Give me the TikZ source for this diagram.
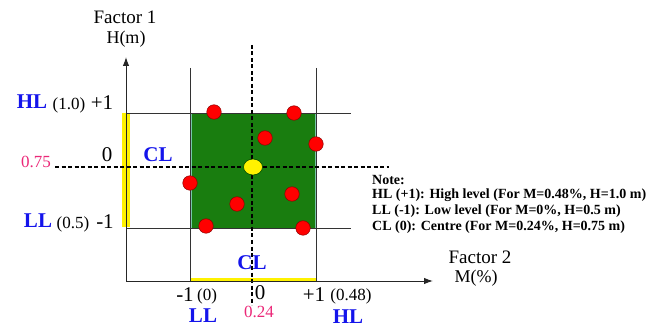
\documentclass[tikz,border=0pt]{standalone}
\usepackage{fontspec}
\setmainfont{Liberation Serif}
\usetikzlibrary{arrows.meta,shapes.geometric}
\definecolor{lblblue}{RGB}{20,20,235}
\definecolor{pinkv}{RGB}{235,40,120}
\definecolor{dgreen}{RGB}{25,125,15}
\definecolor{gedge}{RGB}{120,200,170}
\begin{document}
\begin{tikzpicture}[x=1pt,y=-1pt,
  thinline/.style={draw=black!80, line width=0.9pt},
  dashline/.style={draw=black, line width=1.6pt, dash pattern=on 4pt off 2.5pt},
  axisline/.style={draw=black!85, line width=1pt},
  lvl/.style={text=lblblue, font=\fontsize{21}{21}\selectfont\bfseries, inner sep=0pt, text height=0.68em, text depth=0pt},
  num/.style={font=\fontsize{21}{21}\selectfont, inner sep=0pt, text height=0.68em, text depth=0pt},
  paren/.style={font=\fontsize{17}{17}\selectfont, inner sep=0pt, text height=0.68em, text depth=0.2em},
  pinkval/.style={text=pinkv, font=\fontsize{17}{17}\selectfont, inner sep=0pt, text height=0.68em, text depth=0pt},
  factor/.style={font=\fontsize{19}{19}\selectfont, inner sep=0pt},
  unit/.style={font=\fontsize{18}{18}\selectfont, inner sep=0pt},
  reddot/.style={circle, fill=red, draw=red!55!black, line width=0.5pt, minimum size=14.5pt, inner sep=0pt},
  notetext/.style={anchor=west, font=\fontsize{14}{14}\selectfont\bfseries, inner sep=0pt}]
\useasboundingbox (0,0) rectangle (661,331);

% green region
\fill[dgreen] (191,113) rectangle (315,228);
\draw[gedge, line width=0.6pt] (191,113) rectangle (315,228);

% yellow bars
\fill[yellow] (122,113) rectangle (129.5,227);
\fill[yellow] (190,277.5) rectangle (316,281);

% grid lines
\draw[thinline] (190,68) -- (190,281);
\draw[thinline] (316,68) -- (316,281);
\draw[thinline] (126,113) -- (351,113);
\draw[thinline] (126,228) -- (351,228);

% dashed centre lines
\draw[dashline] (55,167) -- (389,167);
\draw[dashline] (252,45) -- (252,305);

% axes
\coordinate (O) at (126,281);
\coordinate (ytip) at (126,57);
\coordinate (xtip) at (433,281);
\draw[axisline, -{Latex[length=9pt,width=6.5pt]}] (O) -- (ytip);
\draw[axisline, -{Latex[length=9pt,width=6.5pt]}] (O) -- (xtip);

% design points
\node[reddot] (p1) at (214,112) {};
\node[reddot] (p2) at (294,113) {};
\node[reddot] (p3) at (265,138) {};
\node[reddot] (p4) at (316,144) {};
\node[reddot] (p5) at (190,183) {};
\node[reddot] (p6) at (237,204) {};
\node[reddot] (p7) at (292,194) {};
\node[reddot] (p8) at (206,226) {};
\node[reddot] (p9) at (303,228) {};
\node[ellipse, fill=yellow, draw=black!70!green, line width=0.6pt, minimum width=19pt, minimum height=16pt, inner sep=0pt] (ctr) at (253,167) {};

% axis titles
\node[factor] (f1) at (125,17) {Factor 1};
\node[unit] (hm) at (126,39) {H(m)};
\node[factor] (f2) at (480,257) {Factor 2};
\node[unit] (mp) at (476,278) {M(\%)};

% vertical axis labels
\node[lvl] (hl1) at (32,105) {HL};
\node[paren] (v10) at (69,107) {(1.0)};
\node[num] (p1l) at (102,106) {+1};
\node[pinkval] (v075) at (36,164) {0.75};
\node[num] (z1) at (107,158) {0};
\node[lvl] (cl1) at (158,158) {CL};
\node[lvl] (ll1) at (38,224) {LL};
\node[paren] (v05) at (73,226) {(0.5)};
\node[num] (m1l) at (105,225) {-1};

% horizontal axis labels
\node[lvl] (cl2) at (252,266) {CL};
\node[num] (m1b) at (185,298) {-1};
\node[paren] (v0) at (207,298.5) {(0)};
\node[num] (z2) at (260,296.5) {0};
\node[num] (p1b) at (314,298) {+1};
\node[paren] (v048) at (351,298.5) {(0.48)};
\node[lvl] (ll2) at (203,319) {LL};
\node[pinkval] (v024) at (259,314) {0.24};
\node[lvl] (hl2) at (348,320) {HL};

% note
\node[notetext] (n0) at (372,180) {Note:};
\node[notetext] (n1) at (372,195.5) {HL (+1): High level (For M=0.48\%, H=1.0 m)};
\node[notetext] (n2) at (372,211.5) {LL (-1): Low level (For M=0\%, H=0.5 m)};
\node[notetext] (n3) at (372,227) {CL (0): Centre (For M=0.24\%, H=0.75 m)};
\end{tikzpicture}
\end{document}
